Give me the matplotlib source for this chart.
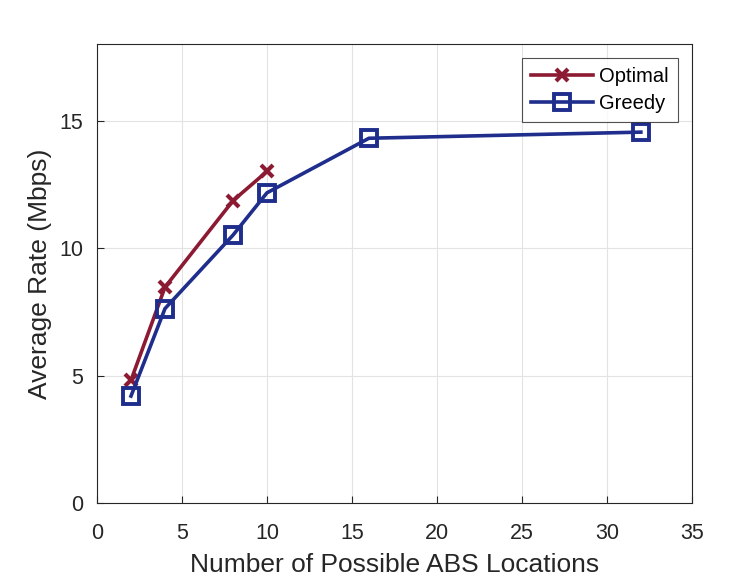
import matplotlib
matplotlib.use("Agg")
import matplotlib.pyplot as plt

plt.rcParams['font.family'] = ['Liberation Sans', 'DejaVu Sans']

x_opt = [2, 4, 8, 10]
y_opt = [4.82, 8.47, 11.86, 13.01]
x_greedy = [2, 4, 8, 10, 16, 32]
y_greedy = [4.2, 7.63, 10.51, 12.17, 14.31, 14.55]
xticks = [0, 5, 10, 15, 20, 25, 30, 35]
yticks = [0, 5, 10, 15]

red = '#8c1a33'
blue = '#1f2d8c'
dark = '#262626'

fig = plt.figure(figsize=(7.52, 5.81), dpi=100)
ax = fig.add_axes([0.129, 0.134, 0.791, 0.790])
ax.plot(x_opt, y_opt, color=red, lw=2.6, marker='x', ms=9, mew=3, label='Optimal')
ax.plot(x_greedy, y_greedy, color=blue, lw=2.6, marker='s', ms=11, mew=2.8,
        mfc='none', label='Greedy')
ax.set_xlim(0, 35)
ax.set_ylim(0, 18)
ax.set_xticks(xticks)
ax.set_yticks(yticks)
ax.grid(True, color='#e3e3e3', lw=0.8)
ax.set_axisbelow(True)
ax.tick_params(direction='in', labelsize=15.5, length=5, color=dark, labelcolor=dark)
ax.tick_params(axis='x', pad=14)
ax.tick_params(axis='y', pad=10)
for s in ax.spines.values():
    s.set_color(dark)
    s.set_linewidth(0.8)
ax.set_xlabel('Number of Possible ABS Locations', fontsize=19, color=dark, labelpad=7)
ax.set_ylabel('Average Rate (Mbps)', fontsize=19, color=dark, labelpad=5)
leg = ax.legend(loc='upper right', fontsize=14.5, frameon=True, fancybox=False,
                edgecolor=dark, borderpad=0.45, handlelength=3.1, handletextpad=0.3,
                labelspacing=0.4, borderaxespad=0.7)
leg.get_frame().set_linewidth(0.8)
fig.savefig('out.png', dpi=100)
